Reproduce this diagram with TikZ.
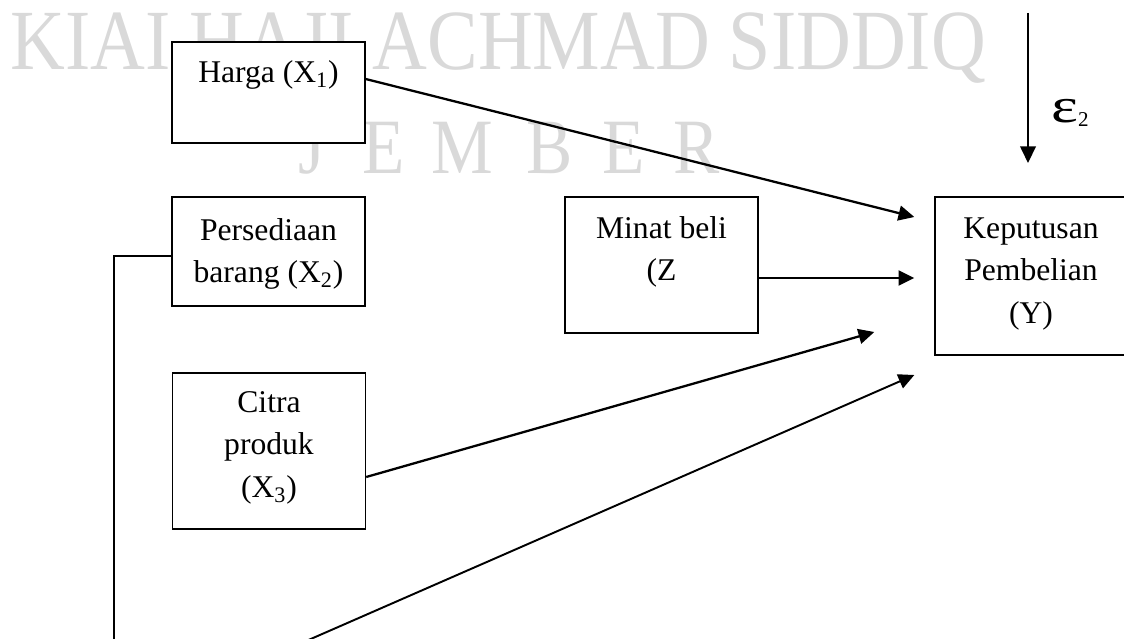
\documentclass[tikz,border=0pt]{standalone}
\usepackage{fontspec}
\setmainfont{Liberation Serif}
\usepackage{graphicx}
\usetikzlibrary{arrows.meta,calc}

\definecolor{wmgray}{RGB}{217,217,217}

\tikzset{
  box/.style={draw, fill=white, line width=0.8pt, inner sep=0pt, minimum width=3.86cm},
  lbl/.style={anchor=base, inner sep=0pt, font=\fontsize{18}{24.4}\selectfont},
  link/.style={line width=1.3pt, -{Triangle[length=9pt,width=8.5pt]}},
  elbow/.style={line width=1.1pt, -{Triangle[length=9pt,width=8.5pt]}},
  wmark/.style={anchor=base, inner sep=0pt, text=wmgray, font=\fontsize{48.8}{50}\selectfont},
  wmarkb/.style={anchor=base, inner sep=0pt, text=wmgray, font=\fontsize{44.6}{46}\selectfont},
}
\newcommand\stacklines[1]{\begin{tabular}[t]{@{}c@{}}#1\end{tabular}}
\newcommand\narrow[1]{\scalebox{0.885}[1]{#1}}

\begin{document}
\begin{tikzpicture}[x=0.02cm, y=-0.02cm]
\useasboundingbox (0,0) rectangle (1124,638);
\clip (0,0) rectangle (1124,638);

% faint institutional watermark
\node[wmark, anchor=base west] (wmA) at (10,70) {\narrow{KIAI HAJI ACHMAD SIDDIQ}};
\node[wmarkb] (wmJ)  at (312,174) {\narrow{J}};
\node[wmarkb] (wmE1) at (384,174) {\narrow{E}};
\node[wmarkb] (wmM)  at (462,174) {\narrow{M}};
\node[wmarkb] (wmB)  at (550,174) {\narrow{B}};
\node[wmarkb] (wmE2) at (624,174) {\narrow{E}};
\node[wmarkb] (wmR)  at (697,174) {\narrow{R}};

% variable boxes
\node[box, minimum height=2.02cm] (X1) at (268.5,92.5) {};
\node[box, minimum height=2.18cm] (X2) at (268.5,251.5) {};
\node[box, minimum height=3.12cm] (X3) at (269,451) {};
\node[box, minimum height=2.72cm] (Z)  at (661.5,265) {};
\node[box, minimum width=3.84cm, minimum height=3.16cm] (Y) at (1031,276) {};

% box texts
\node[lbl] (tX1) at (268.5,83)  {Harga (X\textsubscript{1})};
\node[lbl] (tX2) at (268.5,240) {\stacklines{Persediaan\\barang (X\textsubscript{2})}};
\node[lbl] (tX3) at (269,412)   {\stacklines{Citra\\produk\\(X\textsubscript{3})}};
\node[lbl] (tZ)  at (661.5,238) {\stacklines{Minat beli\\(Z}};
\node[lbl] (tY)  at (1031,238)  {\stacklines{Keputusan\\Pembelian\\(Y)}};

% connectors into Keputusan Pembelian
\draw[link] ($(X1.east)+(0,-13.5)$) -- ($(Y.west)+(-20,-59)$);
\draw[link] ($(Z.east)+(0,13)$) -- ($(Y.west)+(-20,2)$);
\draw[link] ($(X3.east)+(0,26)$) -- ($(Y.west)+(-60,56)$);
\coordinate (c1) at (114,680);
\coordinate (c2) at (217,680);
\draw[elbow] ($(X2.west)+(0,4.5)$) -| (c1) -- (c2) -- ($(Y.west)+(-20,99)$);

% error term
\coordinate (e0) at (1028,13);
\coordinate (e1) at (1028,163);
\draw[line width=0.8pt, -{Triangle[length=9.5pt,width=9pt]}] (e0) -- (e1);
\node[anchor=base west, inner sep=0pt, font=\fontsize{28}{30}\selectfont] (eps) at (1051,123)
  {\scalebox{1.3}[1]{ε}\raisebox{-2pt}{\fontsize{12}{13}\selectfont 2}};
\end{tikzpicture}
\end{document}
